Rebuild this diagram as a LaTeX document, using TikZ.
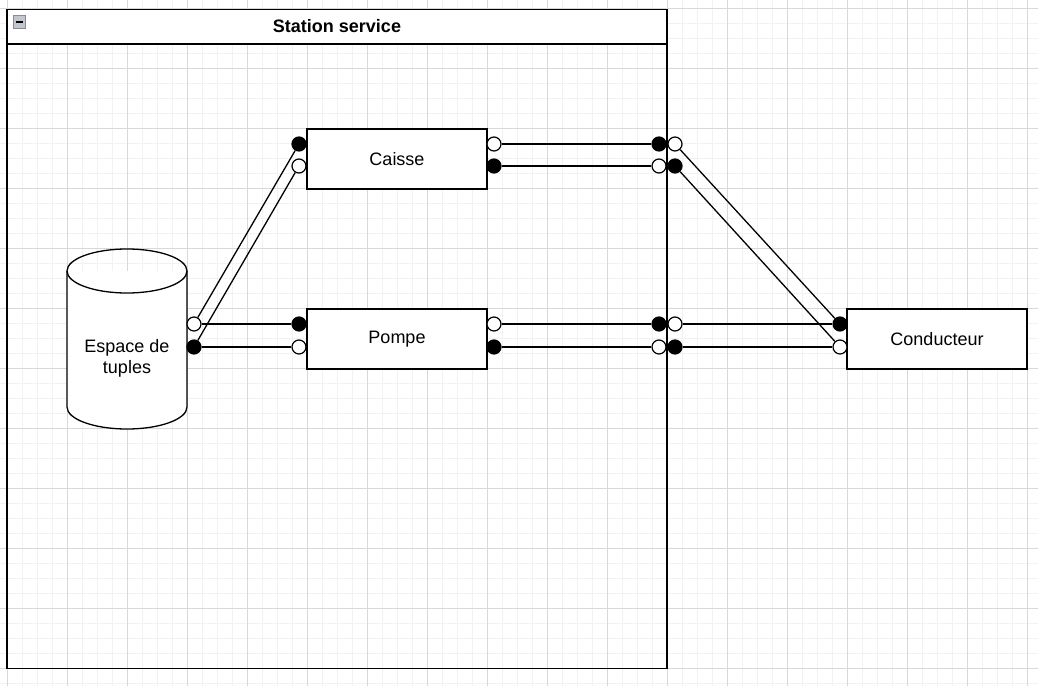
\documentclass[tikz,border=0pt]{standalone}
\usepackage{fontspec}
\setmainfont{Liberation Sans}
\usetikzlibrary{positioning}

\definecolor{gridminor}{RGB}{242,242,242}
\definecolor{gridmajor}{RGB}{216,216,216}
\definecolor{iconfill}{RGB}{196,198,206}
\definecolor{iconedge}{RGB}{136,138,150}

\tikzset{
  bloc/.style={draw, line width=1.3pt, fill=white, minimum width=180pt, minimum height=60pt,
               font=\fontsize{18}{21}\selectfont},
  pin/.style={circle, draw, line width=1.2pt, fill=white, minimum size=14pt, inner sep=0pt},
  pout/.style={pin, fill=black},
  fil/.style={line width=1.3pt},
}

\begin{document}
\begin{tikzpicture}[x=1pt, y=-1pt]
   \useasboundingbox (0,0) rectangle (1038,685);
   % grille de fond
   \begin{scope}[shift={(7pt,-8.5pt)}]
   \draw[gridminor, line width=1pt, step=15pt] (-20,-20) grid (1050,700);
   \draw[gridmajor, line width=1pt, step=60pt] (-20,-20) grid (1050,700);
   \end{scope}

   % station service
   \def\sxa{7};  \def\sxb{667};
   \def\sya{9.5}; \def\syb{668.5};
   \fill[white] (\sxa,\sya) rectangle (\sxb,44);
   \draw[line width=1.5pt] (\sxa,\sya) rectangle (\sxb,\syb);
   \draw[line width=1.5pt] (\sxa,44) -- (\sxb,44);   % barre de titre
   \node[font=\bfseries\fontsize{18}{21}\selectfont] (titre) at (337,26) {Station service};
   \draw[fill=iconfill, draw=iconedge, line width=1pt] (13,16) rectangle (25.5,28.5);
   \draw[line width=1.6pt] (15.5,22.3) -- (23,22.3);

   % espace de tuples
   \filldraw[fill=white, line width=1.3pt] (67,271) -- (67,407)
      arc[start angle=180, end angle=0, x radius=60, y radius=22] -- (187,271);
   \draw[line width=1.3pt] (127,271) ellipse [x radius=60, y radius=22];
   \node[align=center, font=\fontsize{18}{21}\selectfont] (espace) at (127,358) {Espace de\\tuples};

   % composants
   \node[bloc] (caisse) at (397,159) {Caisse};
   \node[bloc] (pompe) at (397,339) {Pompe};
   \node[bloc] (cond) at (937,339) {Conducteur};

   % ports
   \node[pin]  (e1) at (194,324) {};
   \node[pout] (e2) at (194,347) {};
   \node[pout] (cl1) at (299,144) {};
   \node[pin]  (cl2) at (299,166) {};
   \node[pin]  (cr1) at (494,144) {};
   \node[pout] (cr2) at (494,166) {};
   \node[pout] (pl1) at (299,324) {};
   \node[pin]  (pl2) at (299,347) {};
   \node[pin]  (pr1) at (494,324) {};
   \node[pout] (pr2) at (494,347) {};
   \node[pout] (si1) at (659,144) {};
   \node[pin]  (si2) at (659,166) {};
   \node[pout] (si3) at (659,324) {};
   \node[pin]  (si4) at (659,347) {};
   \node[pin]  (so1) at (675,144) {};
   \node[pout] (so2) at (675,166) {};
   \node[pin]  (so3) at (675,324) {};
   \node[pout] (so4) at (675,347) {};
   \node[pout] (k1) at (840,324) {};
   \node[pin]  (k2) at (840,347) {};

   % liaisons
   \draw[fil] (e1) -- (cl1);
   \draw[fil] (e2) -- (cl2);
   \draw[fil] (e1) -- (pl1);
   \draw[fil] (e2) -- (pl2);
   \draw[fil] (cr1) -- (si1);
   \draw[fil] (cr2) -- (si2);
   \draw[fil] (pr1) -- (si3);
   \draw[fil] (pr2) -- (si4);
   \draw[fil] (so1) -- (k1);
   \draw[fil] (so2) -- (k2);
   \draw[fil] (so3) -- (k1);
   \draw[fil] (so4) -- (k2);
\end{tikzpicture}
\end{document}
